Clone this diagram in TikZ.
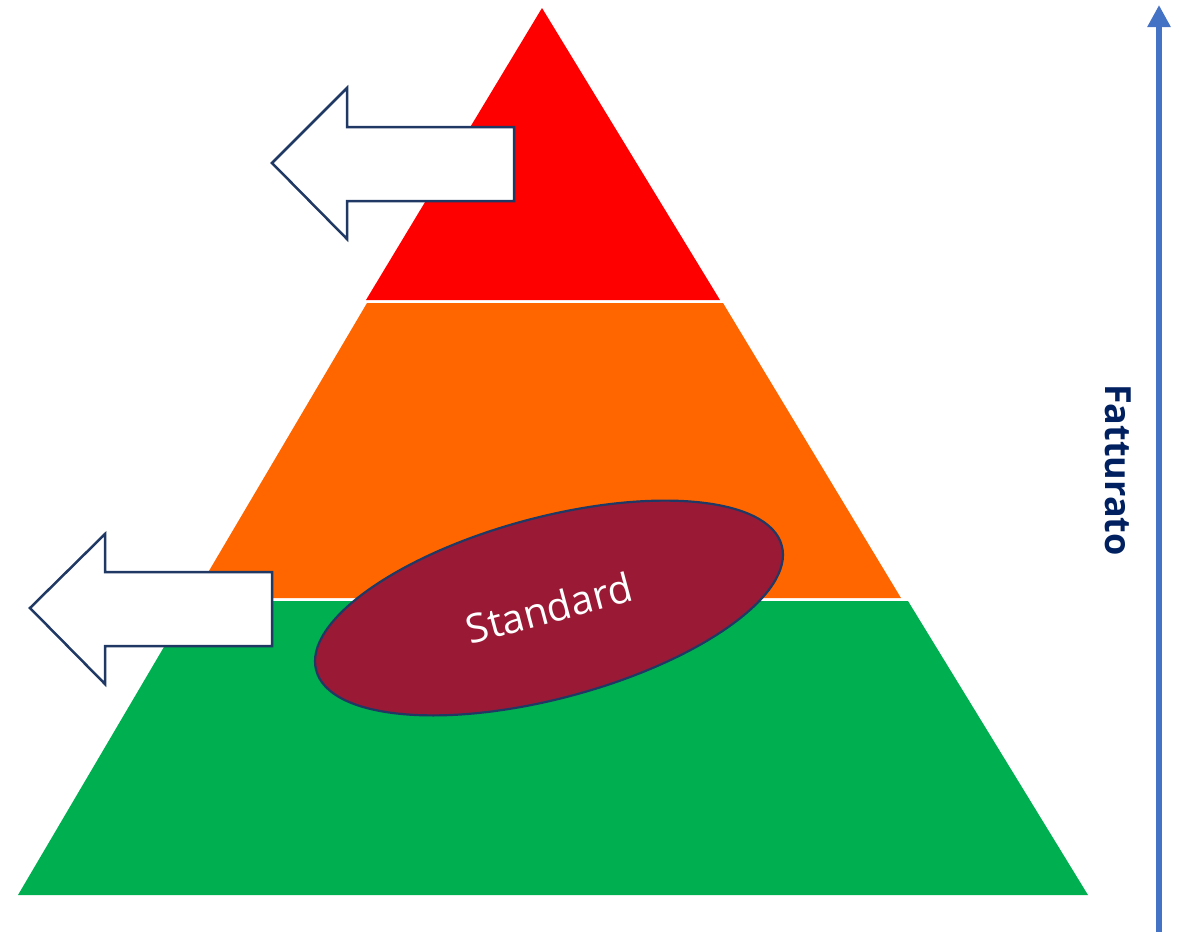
\documentclass[tikz,border=0pt]{standalone}
\usepackage{fontspec}
\setmainfont{Open Sans}
\usetikzlibrary{shapes.geometric,arrows.meta}
\definecolor{tierred}{HTML}{FF0000}
\definecolor{tierorange}{HTML}{FF6600}
\definecolor{tiergreen}{HTML}{00AF50}
\definecolor{stdfill}{HTML}{9A1A36}
\definecolor{navyline}{HTML}{203864}
\definecolor{axisblue}{HTML}{4472C4}
\definecolor{labelnavy}{HTML}{002060}
\tikzset{
  band/.style={draw=none},
  leftarrow/.style={draw=navyline, line width=2.5pt, fill=white, line join=miter},
  stdellipse/.style={ellipse, draw=navyline, line width=2.2pt, fill=stdfill, inner sep=0pt,
     minimum width=482pt, minimum height=181pt, text=white, font=\fontsize{40}{42}\selectfont},
  axis/.style={draw=axisblue, line width=6.5pt, -{Triangle[length=22pt,width=22pt]}},
  axislabel/.style={text=labelnavy, font=\bfseries\fontsize{36}{38}\selectfont, rotate=-90}
}
\begin{document}
\begin{tikzpicture}[x=1pt,y=-1pt]
\useasboundingbox (0,0) rectangle (1179,932);
% pyramid bands
\fill[band, tiergreen] (191,601) -- (908,601) -- (1088,895) -- (18,895) -- cycle;
\fill[band, tierorange] (367,303) -- (723,303) -- (901,598) -- (193,598) -- cycle;
\fill[band, tierred] (542,8) -- (720,300) -- (366,300) -- cycle;
% upper left arrow
\draw[leftarrow] (272,163) -- (347,88) -- (347,127) -- (514,127) -- (514,201) -- (347,201) -- (347,239) -- cycle;
% lower left arrow
\draw[leftarrow] (30,608) -- (105,534) -- (105,572) -- (272,572) -- (272,646) -- (105,646) -- (105,684) -- cycle;
% ellipse
\node[stdellipse, rotate=15] (std) at (549,608) {Standard};
% axis
\coordinate (axbot) at (1159,932);
\coordinate (axtop) at (1159,5);
\draw[axis] (axbot) -- (axtop);
\node[axislabel] (fat) at (1118,470) {Fatturato};
\end{tikzpicture}
\end{document}
